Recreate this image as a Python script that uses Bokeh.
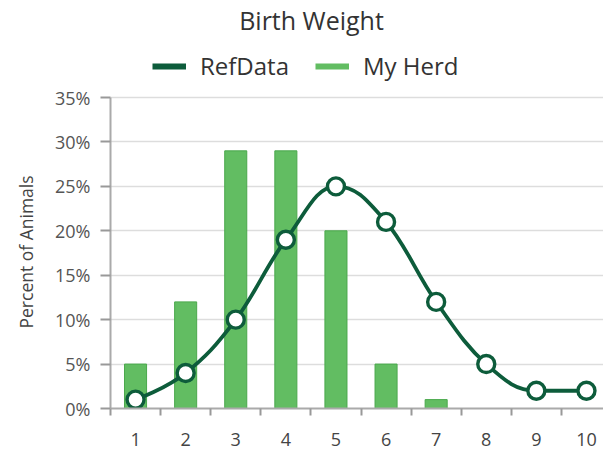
from bokeh.plotting import figure
from bokeh.models import (Range1d, FixedTicker, PrintfTickFormatter, Legend, LegendItem,
                          Label, Title, ColumnDataSource)
from bokeh.embed import file_html
from bokeh.resources import INLINE

# ---- data ----
categories = [1, 2, 3, 4, 5, 6, 7, 8, 9, 10]
tick_labels = ["1", "2", "3", "4", "5", "6", "7", "8", "9", "10"]
my_herd = [5, 12, 29, 29, 20, 5, 1, 0, 0, 0]
ref_data = [1, 4, 10, 19, 25, 21, 12, 5, 2, 2]
y_ticks = [0, 5, 10, 15, 20, 25, 30, 35]

DARK = "#0d5c3b"
LIGHT = "#62bd62"
LIGHT_EDGE = "#4aa84c"
FONT = "Open Sans"

# frame extends to the top of the canvas so the title/legend can sit inside it;
# the value axis itself stops at 35 %
p = figure(width=603, height=449, output_backend="svg", toolbar_location=None,
           x_range=Range1d(0.5, 10.34), y_range=Range1d(0, 45.92),
           min_border_left=110, min_border_right=0, min_border_top=0, min_border_bottom=41)
p.outline_line_color = None
p.background_fill_color = "white"
p.border_fill_color = "white"

# bars
p.vbar(x=categories, top=my_herd, width=0.44, fill_color=LIGHT, line_color=LIGHT_EDGE, line_width=1)


# smoothed line control points (spline rendering through the data points)
def spline_controls(xs, ys, smoothing=1.5):
    n = len(xs)
    left = [None] * n
    right = [None] * n
    denom = smoothing + 1
    for i in range(1, n - 1):
        px, py = xs[i], ys[i]
        lx, ly = xs[i - 1], ys[i - 1]
        nx, ny = xs[i + 1], ys[i + 1]
        lcx = (smoothing * px + lx) / denom
        lcy = (smoothing * py + ly) / denom
        rcx = (smoothing * px + nx) / denom
        rcy = (smoothing * py + ny) / denom
        if rcx != lcx:
            corr = (rcy - lcy) * (rcx - px) / (rcx - lcx) + py - rcy
            lcy += corr
            rcy += corr
            if lcy > ly and lcy > py:
                lcy = max(ly, py); rcy = 2 * py - lcy
            elif lcy < ly and lcy < py:
                lcy = min(ly, py); rcy = 2 * py - lcy
            if rcy > ny and rcy > py:
                rcy = max(ny, py); lcy = 2 * py - rcy
            elif rcy < ny and rcy < py:
                rcy = min(ny, py); lcy = 2 * py - rcy
        left[i] = (lcx, lcy)
        right[i] = (rcx, rcy)
    seg = dict(x0=[], y0=[], x1=[], y1=[], cx0=[], cy0=[], cx1=[], cy1=[])
    for i in range(1, n):
        c0 = right[i - 1] if right[i - 1] is not None else (xs[i - 1], ys[i - 1])
        c1 = left[i] if left[i] is not None else (xs[i], ys[i])
        seg["x0"].append(xs[i - 1]); seg["y0"].append(ys[i - 1])
        seg["x1"].append(xs[i]); seg["y1"].append(ys[i])
        seg["cx0"].append(c0[0]); seg["cy0"].append(c0[1])
        seg["cx1"].append(c1[0]); seg["cy1"].append(c1[1])
    return seg


seg_src = ColumnDataSource(spline_controls(categories, ref_data))
p.bezier(x0="x0", y0="y0", x1="x1", y1="y1", cx0="cx0", cy0="cy0", cx1="cx1", cy1="cy1",
         source=seg_src, line_color=DARK, line_width=3.8)
p.scatter(x=categories, y=ref_data, size=17, fill_color="white", line_color=DARK, line_width=3.4)

# legend swatches (invisible one-row lines, used only for the legend glyphs)
nan = float("nan")
r_ref = p.line(x=[nan], y=[nan], line_color=DARK, line_width=6)
r_herd = p.line(x=[nan], y=[nan], line_color=LIGHT, line_width=6)
legend = Legend(items=[LegendItem(label="RefData", renderers=[r_ref]),
                       LegendItem(label="My Herd", renderers=[r_herd])],
                orientation="horizontal", location=(42, 326),
                glyph_width=34, glyph_height=20, label_standoff=14, spacing=26,
                padding=0, margin=0, border_line_color=None, background_fill_alpha=0,
                label_text_font=FONT, label_text_font_size="24px", label_text_color="#333333")
p.add_layout(legend, "center")

# title
p.add_layout(Label(x=201, y=389, x_units="screen", y_units="screen", text="Birth Weight",
                   text_align="center", text_baseline="middle", text_font=FONT,
                   text_font_size="25px", text_color="#333333"))

# value-axis caption, centred on the 0–35 % span
p.add_layout(Title(text="Percent of Animals", align="left", offset=80, standoff=26,
                   vertical_align="top", text_font=FONT, text_font_size="17.5px",
                   text_font_style="normal", text_color="#444444"), "left")

# axes
p.xaxis.ticker = FixedTicker(ticks=categories, minor_ticks=[c - 0.5 for c in categories] + [10.5])
p.xaxis.major_label_overrides = {c: t for c, t in zip(categories, tick_labels)}
p.xaxis.major_tick_line_color = None
p.xaxis.major_tick_out = 0
p.xaxis.major_tick_in = 0
p.xaxis.minor_tick_out = 7
p.xaxis.minor_tick_in = 0
p.xaxis.minor_tick_line_color = "#999999"
p.xaxis.minor_tick_line_width = 2
p.xaxis.axis_line_color = "#aaaaaa"
p.xaxis.axis_line_width = 2
p.xaxis.major_label_standoff = 17
p.xaxis.major_label_text_font = FONT
p.xaxis.major_label_text_font_size = "18px"
p.xaxis.major_label_text_color = "#444444"

p.yaxis.ticker = FixedTicker(ticks=y_ticks)
p.yaxis.bounds = (0, 35)
p.yaxis.formatter = PrintfTickFormatter(format="%d%%")
p.yaxis.minor_tick_line_color = None
p.yaxis.major_tick_out = 10
p.yaxis.major_tick_in = 0
p.yaxis.major_tick_line_color = "#999999"
p.yaxis.major_tick_line_width = 2
p.yaxis.axis_line_color = "#aaaaaa"
p.yaxis.axis_line_width = 2
p.yaxis.major_label_standoff = 10
p.yaxis.major_label_text_font = FONT
p.yaxis.major_label_text_font_size = "18px"
p.yaxis.major_label_text_color = "#555555"

p.xgrid.grid_line_color = None
p.ygrid.ticker = FixedTicker(ticks=y_ticks)
p.ygrid.grid_line_color = "#dddddd"
p.ygrid.grid_line_width = 1.5

open("out.html", "w").write(file_html(p, INLINE))
